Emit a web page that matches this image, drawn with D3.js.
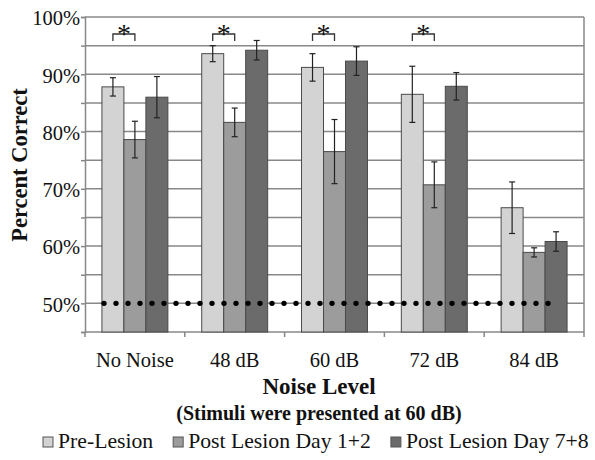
<!DOCTYPE html>
<html>
<head>
<meta charset="utf-8">
<script src="https://cdn.jsdelivr.net/npm/d3@7"></script>
<style>
  html, body { margin: 0; padding: 0; background: #fff; }
  svg { display: block; }
  svg text { font-family: 'Liberation Serif', Tinos, 'Times New Roman', Times, 'DejaVu Serif', serif; fill: #111; }
</style>
</head>
<body>
<svg id="chart" width="595" height="460"></svg>
<script>
// ---- data ----
const categories = ["No Noise", "48 dB", "60 dB", "72 dB", "84 dB"];
const seriesNames = ["Pre-Lesion", "Post Lesion Day 1+2", "Post Lesion Day 7+8"];
const preLesion = [87.8, 93.6, 91.2, 86.5, 66.7];
const preLesionErr = [1.6, 1.4, 2.4, 4.9, 4.5];
const postDay12 = [78.6, 81.6, 76.5, 70.7, 58.9];
const postDay12Err = [3.2, 2.5, 5.6, 4.0, 0.8];
const postDay78 = [86.0, 94.2, 92.3, 87.9, 60.8];
const postDay78Err = [3.6, 1.7, 2.5, 2.4, 1.7];
const significant = ["No Noise", "48 dB", "60 dB", "72 dB"];
const chanceLevel = 50;
const yTicks = [45, 50, 55, 60, 65, 70, 75, 80, 85, 90, 95, 100];
const yLabels = [50, 60, 70, 80, 90, 100];

(function () {
const FONT = "'Liberation Serif', Tinos, 'Times New Roman', Times, 'DejaVu Serif', serif";
const seriesValues = [preLesion, postDay12, postDay78];
const seriesErrors = [preLesionErr, postDay12Err, postDay78Err];
const colors = ["#d3d3d3", "#9c9c9c", "#6b6b6b"];

const svg = d3.select("#chart");
const pL = 85, pR = 584, pT = 17, pB = 332;

const y = d3.scaleLinear().domain([45, 100]).range([pB, pT]);
const x0 = d3.scaleBand().domain(categories).range([pL, pR]).padding(0);
const x1 = d3.scaleBand().domain(seriesNames).range([0, x0.bandwidth()]).paddingInner(0).paddingOuter(0.77);

const gridColor = "#888888";

// gridlines
svg.append("g").selectAll("line")
  .data(yTicks.filter(t => t > 45))
  .join("line")
  .attr("x1", pL).attr("x2", pR)
  .attr("y1", d => y(d)).attr("y2", d => y(d))
  .attr("stroke", gridColor).attr("stroke-width", 1.5);

// right border
svg.append("line")
  .attr("x1", pR).attr("x2", pR).attr("y1", y(100)).attr("y2", y(45))
  .attr("stroke", gridColor).attr("stroke-width", 1.5);

// y axis
const yAxis = d3.axisLeft(y).tickValues(yTicks).tickSize(4).tickPadding(1)
  .tickFormat(d => yLabels.includes(d) ? d + "%" : "");
const gy = svg.append("g").attr("transform", `translate(${pL},0)`).call(yAxis)
  .attr("font-family", FONT);
gy.select(".domain").attr("stroke", gridColor).attr("stroke-width", 1.5);
gy.selectAll(".tick line").attr("stroke", gridColor).attr("stroke-width", 1.5);
gy.selectAll(".tick text").attr("font-size", 20.5).attr("fill", "#111").attr("dy", "0.38em");

// x axis
const gx = svg.append("g");
gx.append("line").attr("x1", pL).attr("x2", pR).attr("y1", pB).attr("y2", pB)
  .attr("stroke", gridColor).attr("stroke-width", 1.5);
const boundaries = categories.map(c => x0(c)).concat([x0(categories[categories.length - 1]) + x0.bandwidth()]);
gx.selectAll(".tk").data(boundaries).join("line")
  .attr("x1", d => d).attr("x2", d => d).attr("y1", pB).attr("y2", pB + 5)
  .attr("stroke", gridColor).attr("stroke-width", 1.5);
gx.selectAll(".lbl").data(categories).join("text")
  .attr("x", d => x0(d) + x0.bandwidth() / 2).attr("y", 367)
  .attr("text-anchor", "middle").attr("font-size", 20.5)
  .text(d => d);

// bars
const groups = svg.append("g").selectAll("g").data(categories).join("g")
  .attr("transform", d => `translate(${x0(d)},0)`);
seriesNames.forEach((s, si) => {
  groups.append("rect")
    .attr("x", x1(s))
    .attr("y", (d, i) => y(seriesValues[si][i]))
    .attr("width", x1.bandwidth())
    .attr("height", (d, i) => y(45) - y(seriesValues[si][i]))
    .attr("fill", colors[si])
    .attr("stroke", "#4a4a4a").attr("stroke-width", 1);
});

// chance line (dotted)
svg.append("line")
  .attr("x1", 104).attr("x2", 560)
  .attr("y1", y(chanceLevel)).attr("y2", y(chanceLevel))
  .attr("stroke", "#000").attr("stroke-width", 5.4)
  .attr("stroke-linecap", "round").attr("stroke-dasharray", "0,12");

// error bars
seriesNames.forEach((s, si) => {
  const cx = (d) => x1(s) + x1.bandwidth() / 2;
  const eg = groups.append("g").attr("stroke", "#222").attr("stroke-width", 1.2);
  eg.append("line")
    .attr("x1", cx).attr("x2", cx)
    .attr("y1", (d, i) => y(seriesValues[si][i] + seriesErrors[si][i]))
    .attr("y2", (d, i) => y(seriesValues[si][i] - seriesErrors[si][i]));
  eg.append("line")
    .attr("x1", d => cx(d) - 3).attr("x2", d => cx(d) + 3)
    .attr("y1", (d, i) => y(seriesValues[si][i] + seriesErrors[si][i]))
    .attr("y2", (d, i) => y(seriesValues[si][i] + seriesErrors[si][i]));
  eg.append("line")
    .attr("x1", d => cx(d) - 3).attr("x2", d => cx(d) + 3)
    .attr("y1", (d, i) => y(seriesValues[si][i] - seriesErrors[si][i]))
    .attr("y2", (d, i) => y(seriesValues[si][i] - seriesErrors[si][i]));
});

// significance brackets
const sg = svg.append("g").selectAll("g").data(significant).join("g")
  .attr("transform", d => `translate(${x0(d)},0)`);
const bx1 = x1(seriesNames[0]) + x1.bandwidth() / 2;
const bx2 = x1(seriesNames[1]) + x1.bandwidth() / 2;
sg.append("path")
  .attr("d", `M${bx1},41 L${bx1},34 L${bx2},34 L${bx2},41`)
  .attr("fill", "none").attr("stroke", "#333").attr("stroke-width", 1.3);
sg.append("text")
  .attr("x", (bx1 + bx2) / 2).attr("y", 43)
  .attr("text-anchor", "middle").attr("font-size", 28)
  .text("*");

// axis titles
svg.append("text")
  .attr("transform", "translate(27,165) rotate(-90)")
  .attr("text-anchor", "middle").attr("font-size", 22.5).attr("font-weight", "bold")
  .text("Percent Correct");
svg.append("text")
  .attr("x", 319).attr("y", 394).attr("text-anchor", "middle")
  .attr("font-size", 23).attr("font-weight", "bold").text("Noise Level");
svg.append("text")
  .attr("x", 319).attr("y", 420).attr("text-anchor", "middle")
  .attr("font-size", 20).attr("font-weight", "bold").text("(Stimuli were presented at 60 dB)");

// legend
const legend = svg.append("g");
let lx = 43;
seriesNames.forEach((s, si) => {
  legend.append("rect").attr("x", lx).attr("y", 437).attr("width", 10).attr("height", 10)
    .attr("fill", colors[si]).attr("stroke", "#555").attr("stroke-width", 1);
  const t = legend.append("text").attr("x", lx + 15).attr("y", 448)
    .attr("font-size", 21.7).text(s);
  lx = lx + 15 + t.node().getComputedTextLength() + 20;
});
})();
</script>
</body>
</html>
